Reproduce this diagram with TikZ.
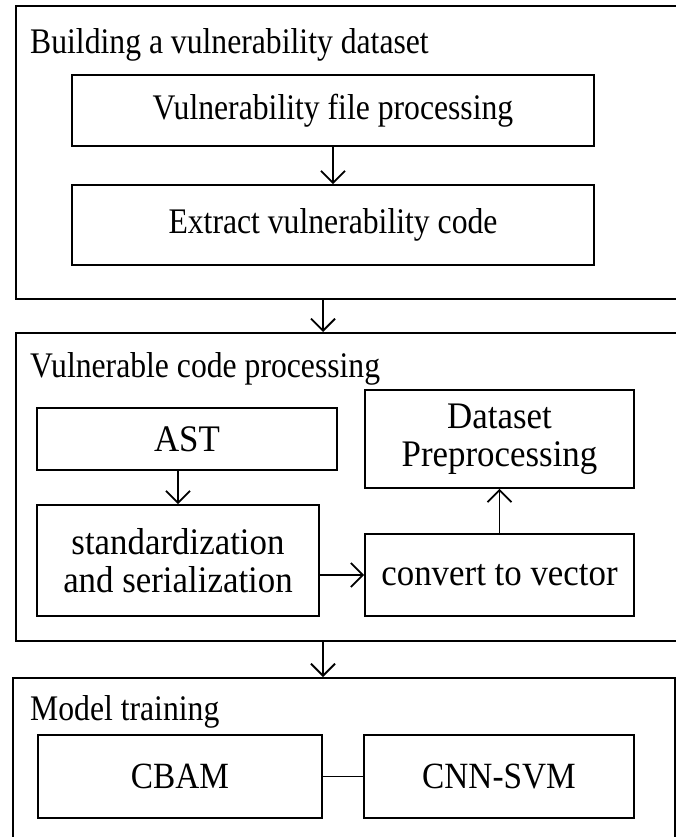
\documentclass[tikz,border=0pt]{standalone}
\usepackage{fontspec}
\setmainfont{Liberation Serif}
\newfontfamily\narrowA{Liberation Serif}[FakeStretch=0.88]
\newfontfamily\narrowB{Liberation Serif}[FakeStretch=0.93]
\newfontfamily\narrowC{Liberation Serif}[FakeStretch=0.90]
\usetikzlibrary{arrows.meta}

\begin{document}
\begin{tikzpicture}[x=1pt,y=-1pt,
    stage/.style={rectangle,draw,line width=2pt,inner sep=0pt,anchor=north west},
    block/.style={rectangle,draw,line width=1.8pt,align=center,inner sep=0pt,
                  font=\narrowA\fontsize{36}{38}\selectfont},
    blockB/.style={block,font=\narrowB\fontsize{37.5}{38}\selectfont},
    blockC/.style={block,font=\narrowC\fontsize{37}{38}\selectfont},
    title/.style={anchor=base west,inner sep=0pt,font=\narrowA\fontsize{36}{38}\selectfont},
    arrow/.style={-{Straight Barb[length=12pt,width=24pt]},line width=1.8pt}
]
\useasboundingbox (0,0) rectangle (676,837);
\clip (0,0) rectangle (676,837);

% stages
\node[stage,minimum width=700pt,minimum height=293pt] (build) at (15,5) {};
\node[stage,minimum width=700pt,minimum height=308pt] (proc)  at (15,332) {};
\node[stage,minimum width=662pt,minimum height=200pt] (train) at (12,677) {};

\node[title] (buildtitle) at (30,54)  {Building a vulnerability dataset};
\node[title] (proctitle)  at (30,377) {Vulnerable code processing};
\node[title] (traintitle) at (30,720) {Model training};

% blocks
\node[block,minimum width=522pt,minimum height=71pt] (vfile)   at (333,110.5) {Vulnerability file processing};
\node[block,minimum width=522pt,minimum height=80pt] (extract) at (333,225)   {Extract vulnerability code};

\node[blockB,minimum width=300pt,minimum height=62pt]  (ast)     at (187,439)   {AST};
\node[blockB,minimum width=282pt,minimum height=111pt] (std)     at (178,560.5) {standardization\\and serialization};
\node[blockB,minimum width=269pt,minimum height=98pt]  (dataset) at (499.5,439) {Dataset\\Preprocessing};
\node[blockB,minimum width=269pt,minimum height=82pt]  (convert) at (499.5,575) {convert to vector};

\node[blockC,minimum width=284pt,minimum height=83pt] (cbam)   at (180,776.5) {CBAM};
\node[blockC,minimum width=270pt,minimum height=83pt] (cnnsvm) at (499,776.5) {CNN-SVM};

% connectors
\draw[arrow] (vfile) -- (extract);
\draw[arrow] (build.south -| 323,0) -- (proc.north -| 323,0);
\draw[arrow] (ast.south -| std.north) -- (std.north);
\draw[arrow] (std.east |- convert.west) -- (convert.west);
\draw[arrow] (convert) -- (dataset);
\draw[arrow] (proc.south -| 323,0) -- (train.north -| 323,0);
\draw[line width=1.8pt] (cbam) -- (cnnsvm);
\end{tikzpicture}
\end{document}
